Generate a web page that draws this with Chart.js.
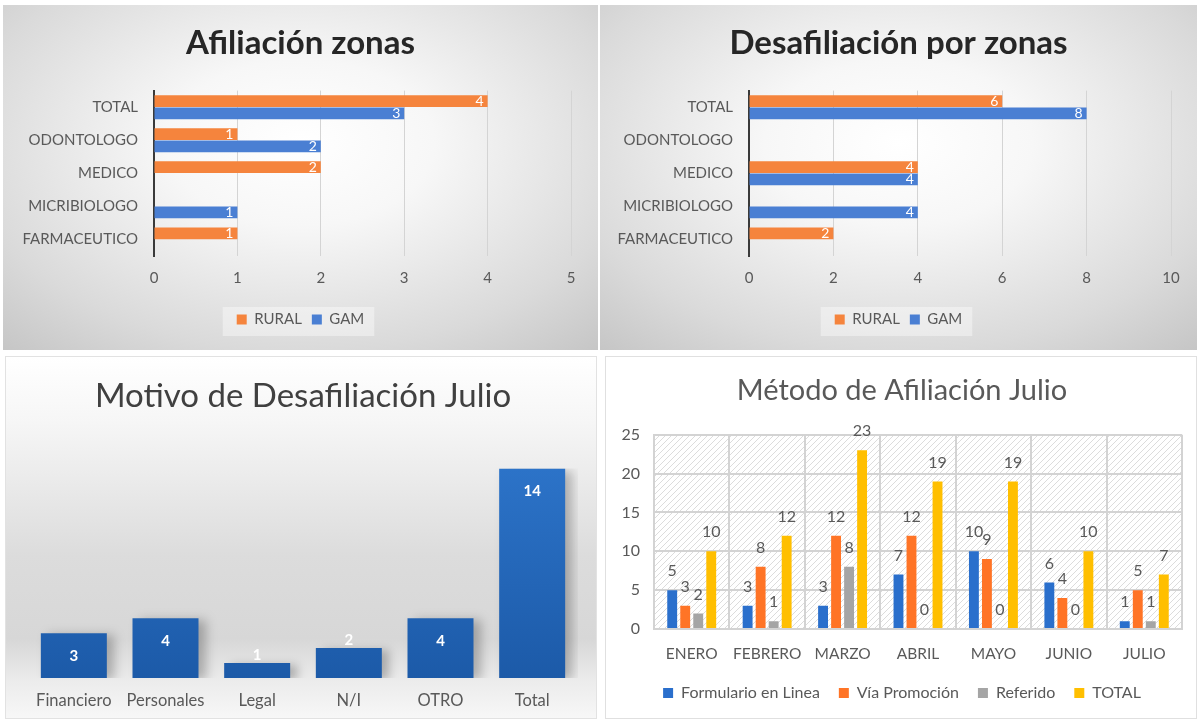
<!DOCTYPE html>
<html><head><meta charset="utf-8">
<script src="https://cdn.jsdelivr.net/npm/chart.js@4.4.0/dist/chart.umd.min.js"></script>
<style>
html,body{margin:0;padding:0;background:#fff;}
body{width:1199px;height:719px;overflow:hidden;position:relative;font-family:Lato,"Open Sans",sans-serif;}
.p{position:absolute;box-sizing:border-box;}
#pa{left:3px;top:5px;width:595px;height:345px;background:radial-gradient(ellipse 75% 80% at 50% 40%,#ffffff 0%,#f7f7f7 30%,#dadada 75%,#c6c6c6 100%);}
#pb{left:600px;top:5px;width:597px;height:345px;background:radial-gradient(ellipse 75% 80% at 50% 40%,#ffffff 0%,#f7f7f7 30%,#dadada 75%,#c6c6c6 100%);}
#pc{left:5px;top:356px;width:592px;height:363px;border:1px solid #e2e2e2;background:linear-gradient(to bottom,#ffffff 0%,#f6f6f6 18%,#dcdcdc 55%,#d7d7d7 78%,#ececec 90%,#f7f7f7 100%);}
#pd{left:605px;top:356px;width:592px;height:363px;border:1px solid #e0e0e0;background:#fff;}
canvas{position:absolute;left:0;top:0;}
</style>
</head><body>
<div class="p" id="pa"><canvas id="c1" width="595" height="345"></canvas></div>
<div class="p" id="pb"><canvas id="c2" width="597" height="345"></canvas></div>
<div class="p" id="pc"><canvas id="c3" width="592" height="363"></canvas></div>
<div class="p" id="pd"><canvas id="c4" width="592" height="363"></canvas></div>
<script>
// ---- Data ----
const zoneCategories = ['TOTAL','ODONTOLOGO','MEDICO','MICRIBIOLOGO','FARMACEUTICO'];
const afilRural = [4, 1, 2, null, 1];
const afilGam   = [3, 2, null, 1, null];
const afilAxisMax = 5;
const afilAxisStep = 1;
const desafRural = [6, null, 4, null, 2];
const desafGam   = [8, null, 4, 4, null];
const desafAxisMax = 10;
const desafAxisStep = 2;

const motivoCategories = ['Financiero','Personales','Legal','N/I','OTRO','Total'];
const motivoValues = [3, 4, 1, 2, 4, 14];

const months = ['ENERO','FEBRERO','MARZO','ABRIL','MAYO','JUNIO','JULIO'];
const formulario = [5, 3, 3, 7, 10, 6, 1];
const promocion  = [3, 8, 12, 12, 9, 4, 5];
const referido   = [2, 1, 8, 0, 0, 0, 1];
const totalMes   = [10, 12, 23, 19, 19, 10, 7];
const metodoAxisMax = 25;
const metodoAxisStep = 5;

const FONT = 'Lato, "Open Sans", sans-serif';
Chart.defaults.font.family = FONT;
Chart.defaults.animation = false;
Chart.defaults.responsive = false;

// ---- value label plugin ----
const valueLabels = {
  id: 'valueLabels',
  afterDatasetsDraw(chart, args, opts) {
    if (!opts || !opts.mode) return;
    const ctx = chart.ctx;
    ctx.save();
    ctx.font = opts.font;
    ctx.fillStyle = opts.color;
    ctx.textBaseline = 'middle';
    ctx.textAlign = 'center';
    chart.data.datasets.forEach((ds, i) => {
      const meta = chart.getDatasetMeta(i);
      meta.data.forEach((el, j) => {
        const v = ds.data[j];
        if (v === null || v === undefined) return;
        let x, y;
        if (opts.mode === 'hEnd') {
          x = el.x - 8; y = el.y;
        } else if (opts.mode === 'vInside') {
          x = el.x;
          const h = el.base - el.y;
          y = h > 30 ? el.y + 23 : el.y - 8;
        } else {
          x = el.x; y = el.y - 19;
        }
        ctx.fillText(String(v), x, y);
      });
    });
    ctx.restore();
  }
};

const legendBox = {
  id: 'legendBox',
  beforeDraw(chart, args, opts) {
    if (!opts || !opts.color) return;
    const l = chart.legend;
    if (!l || !l.legendHitBoxes || !l.legendHitBoxes.length) return;
    const hb = l.legendHitBoxes;
    const left = Math.min(...hb.map(b => b.left)) - 14;
    const right = Math.max(...hb.map(b => b.left + b.width)) + 10;
    const ctx = chart.ctx;
    ctx.save();
    ctx.fillStyle = opts.color;
    ctx.fillRect(left, l.top + 5, right - left, l.height - 6);
    ctx.restore();
  }
};

// empty spacer axis on the right so that title & legend stay centred on the panel
function spacerAxis(w) {
  return {
    type: 'linear', position: 'right', display: true,
    grid: { display: false, drawTicks: false }, border: { display: false },
    ticks: { display: false },
    afterFit(s) { s.width = w; }
  };
}

function makeZoneChart(id, title, rural, gam, maxV, step, yWidth, rightGap) {
  return new Chart(document.getElementById(id), {
    type: 'bar',
    data: {
      labels: zoneCategories,
      datasets: [
        { label: 'RURAL', data: rural, backgroundColor: '#F5843D', borderWidth: 0, categoryPercentage: 0.74, barPercentage: 0.96, yAxisID: 'y' },
        { label: 'GAM', data: gam, backgroundColor: '#4A7FD3', borderWidth: 0, categoryPercentage: 0.74, barPercentage: 0.96, yAxisID: 'y' }
      ]
    },
    options: {
      indexAxis: 'y',
      layout: { padding: { left: 0, right: 0, top: 0, bottom: 13 } },
      scales: {
        x: {
          min: 0, max: maxV,
          ticks: { stepSize: step, color: '#595959', font: { size: 15 }, padding: 13 },
          grid: { color: '#d4d4d4', lineWidth: 1, drawTicks: false },
          border: { display: false },
          afterFit(s) { s.height = 46; }
        },
        y: {
          ticks: { color: '#595959', font: { size: 15 }, padding: 16 },
          grid: { display: false, drawTicks: false },
          border: { color: '#3a3a3a', width: 2 },
          afterFit(s) { s.width = yWidth; }
        },
        yR: spacerAxis(rightGap)
      },
      plugins: {
        title: { display: true, text: title, color: '#262626', font: { size: 33, weight: 'bold' }, padding: { top: 19, bottom: 27 } },
        legend: {
          position: 'bottom',
          labels: { color: '#595959', font: { size: 15 }, boxWidth: 10, boxHeight: 10, padding: 10 }
        },
        tooltip: { enabled: false },
        valueLabels: { mode: 'hEnd', font: '14px ' + FONT, color: '#ffffff' },
        legendBox: { color: 'rgba(255,255,255,0.4)' }
      }
    },
    plugins: [valueLabels, legendBox]
  });
}

makeZoneChart('c1', 'Afiliación zonas', afilRural, afilGam, afilAxisMax, afilAxisStep, 151, 27);
makeZoneChart('c2', 'Desafiliación por zonas', desafRural, desafGam, desafAxisMax, desafAxisStep, 149, 26);

// ---- Chart 3 ----
const barShadow = {
  id: 'barShadow',
  beforeDatasetsDraw(chart) {
    const ctx = chart.ctx;
    ctx.save();
    ctx.shadowColor = 'rgba(0,0,0,0.25)';
    ctx.shadowBlur = 10;
    ctx.shadowOffsetX = 7;
    ctx.shadowOffsetY = 2;
  },
  afterDatasetsDraw(chart) { chart.ctx.restore(); }
};

new Chart(document.getElementById('c3'), {
  type: 'bar',
  data: {
    labels: motivoCategories,
    datasets: [{
      label: 'Motivo',
      data: motivoValues,
      backgroundColor(ctx) {
        const a = ctx.chart.chartArea;
        if (!a) return '#1f63b8';
        const g = ctx.chart.ctx.createLinearGradient(0, a.top, 0, a.bottom);
        g.addColorStop(0, '#2c73c8');
        g.addColorStop(1, '#1c5aa8');
        return g;
      },
      categoryPercentage: 0.8, barPercentage: 0.9
    }]
  },
  options: {
    layout: { padding: { left: 22, right: 20, top: 0, bottom: 0 } },
    scales: {
      x: {
        ticks: { color: '#595959', font: { size: 16.5 }, padding: 13 },
        grid: { display: false, drawTicks: false },
        border: { display: false },
        afterFit(s) { s.height = 42; }
      },
      y: { display: false, min: 0, max: Math.max(...motivoValues) }
    },
    plugins: {
      title: { display: true, text: 'Motivo de Desafiliación Julio', color: '#404040', font: { size: 33, weight: 'normal' }, padding: { top: 20, bottom: 52 } },
      legend: { display: false },
      tooltip: { enabled: false },
      valueLabels: { mode: 'vInside', font: 'bold 15px ' + FONT, color: '#ffffff' }
    }
  },
  plugins: [barShadow, valueLabels]
});

// ---- Chart 4 ----
function hatch() {
  const c = document.createElement('canvas');
  c.width = 6; c.height = 6;
  const x = c.getContext('2d');
  x.fillStyle = '#ffffff'; x.fillRect(0, 0, 6, 6);
  x.strokeStyle = '#dcdcdc'; x.lineWidth = 1;
  x.beginPath(); x.moveTo(0, 6); x.lineTo(6, 0); x.moveTo(-1, 1); x.lineTo(1, -1); x.moveTo(5, 7); x.lineTo(7, 5); x.stroke();
  return c;
}
const hatchBg = {
  id: 'hatchBg',
  beforeDraw(chart) {
    const a = chart.chartArea; const ctx = chart.ctx;
    ctx.save();
    ctx.fillStyle = ctx.createPattern(hatch(), 'repeat');
    ctx.fillRect(a.left, a.top, a.right - a.left, a.bottom - a.top);
    ctx.restore();
  }
};

const bp = 0.76, cp = 0.69;
new Chart(document.getElementById('c4'), {
  type: 'bar',
  data: {
    labels: months,
    datasets: [
      { label: 'Formulario en Linea', data: formulario, backgroundColor: '#2A6FCC', categoryPercentage: cp, barPercentage: bp, yAxisID: 'y' },
      { label: 'Vía Promoción', data: promocion, backgroundColor: '#FF7426', categoryPercentage: cp, barPercentage: bp, yAxisID: 'y' },
      { label: 'Referido', data: referido, backgroundColor: '#A5A5A5', categoryPercentage: cp, barPercentage: bp, yAxisID: 'y' },
      { label: 'TOTAL', data: totalMes, backgroundColor: '#FFBF00', categoryPercentage: cp, barPercentage: bp, yAxisID: 'y' }
    ]
  },
  options: {
    layout: { padding: { left: 0, right: 0, top: 0, bottom: 9 } },
    scales: {
      x: {
        ticks: { color: '#595959', font: { size: 15.5 }, padding: 16 },
        grid: { color: '#d3d3d3', lineWidth: 2, drawTicks: false, offset: true },
        border: { color: '#d3d3d3', width: 2 },
        afterFit(s) { s.height = 37; }
      },
      y: {
        min: 0, max: metodoAxisMax,
        ticks: { stepSize: metodoAxisStep, color: '#595959', font: { size: 16 }, padding: 14 },
        grid: { color: '#d3d3d3', lineWidth: 2, drawTicks: false },
        border: { color: '#d3d3d3', width: 2 },
        afterFit(s) { s.width = 48; }
      },
      yR: spacerAxis(16)
    },
    plugins: {
      title: { display: true, text: 'Método de Afiliación Julio', color: '#595959', font: { size: 29, weight: 'normal' }, padding: { top: 16, bottom: 27 } },
      legend: {
        position: 'bottom',
        labels: { color: '#595959', font: { size: 16 }, boxWidth: 10, boxHeight: 10, padding: 19 }
      },
      tooltip: { enabled: false },
      valueLabels: { mode: 'vAbove', font: '16px ' + FONT, color: '#595959' }
    }
  },
  plugins: [hatchBg, valueLabels]
});
</script>
</body></html>
